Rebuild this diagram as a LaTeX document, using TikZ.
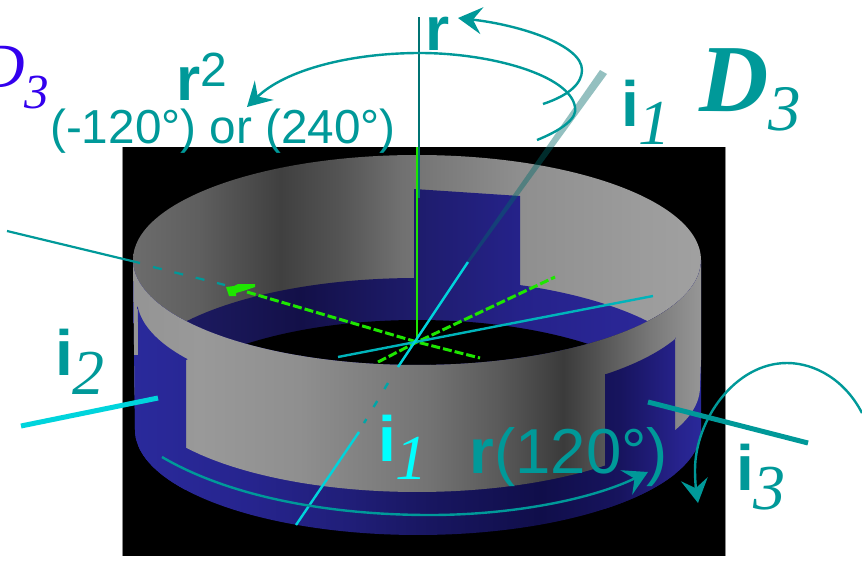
\documentclass[tikz,border=0pt]{standalone}
\usepackage{fontspec}
\setmainfont{Liberation Serif}
\setsansfont{Liberation Sans}
\usetikzlibrary{arrows.meta}
\definecolor{tealx}{HTML}{009999}
\definecolor{cyanx}{HTML}{00D4DC}
\definecolor{aquax}{HTML}{00FFFF}
\definecolor{greenx}{HTML}{1EE600}
\definecolor{bluex}{HTML}{3300EE}
\definecolor{ba}{HTML}{2A2A9C}\definecolor{bb}{HTML}{26248E}\definecolor{bc}{HTML}{201E78}
\definecolor{bd}{HTML}{181660}\definecolor{be}{HTML}{100E4A}\definecolor{bf}{HTML}{17145E}
\definecolor{bg}{HTML}{27238E}
\definecolor{ia}{HTML}{1C1A60}\definecolor{ib}{HTML}{131048}\definecolor{ic}{HTML}{1F1D70}
\definecolor{id}{HTML}{25228A}\definecolor{ie}{HTML}{2B2798}
\tikzset{
  rotarrow/.style={tealx,line width=2.4pt,-{Stealth[length=24pt,width=27pt,inset=9pt]}},
  axisthin/.style={line width=2.4pt},
  greendash/.style={greenx,line width=3pt,dash pattern=on 9pt off 3pt},
  lab/.style={inner sep=0pt,anchor=base west,text=tealx},
}
% piecewise horizontal gradients, between two y values
\newcommand\outergray[2]{\foreach \xa/\ca/\xb/\cb in {125/black!42/200/black!40,200/black!40/300/black!44,300/black!44/430/black!55,430/black!55/500/black!65,500/black!65/563/black!77,563/black!77/600/black!67,600/black!67/650/black!53,650/black!53/705/black!40}
  \shade[left color=\ca,right color=\cb] (\xa,#1) rectangle (\xb+.6,#2);}
\newcommand\innergray[2]{\foreach \xa/\ca/\xb/\cb in {125/black!57/200/black!63,200/black!63/280/black!75,280/black!75/340/black!67,340/black!67/400/black!56,400/black!56/430/black!53,430/black!53/520/black!44,520/black!44/640/black!39,640/black!39/705/black!37}
  \shade[left color=\ca,right color=\cb] (\xa,#1) rectangle (\xb+.6,#2);}
\newcommand\outerblue[2]{\foreach \xa/\ca/\xb/\cb in {125/ba/250/bb,250/bb/350/bc,350/bc/430/bd,430/bd/540/be,540/be/620/bf,620/bf/680/bg,680/bg/705/ba}
  \shade[left color=\ca,right color=\cb] (\xa,#1) rectangle (\xb+.6,#2);}
\newcommand\innerblue[2]{\foreach \xa/\ca/\xb/\cb in {125/ia/192/ia,192/ia/300/ib,300/ib/430/ic,430/ic/520/id,520/id/640/ie,640/ie/705/ie}
  \shade[left color=\ca,right color=\cb] (\xa,#1) rectangle (\xb+.6,#2);}
\newcommand\fsz[1]{\fontsize{#1}{#1}\selectfont}
\begin{document}
\begin{tikzpicture}[x=1pt,y=-1pt]
\useasboundingbox (0,0) rectangle (862,560);
\fill[white] (0,0) rectangle (862,560);
% black backdrop
\fill[black] (122,147) rectangle (725,556);
\draw[black!45,line width=.8pt] (122,147) -- (122,556) (725,147) -- (725,556);
% inside of the ring
\begin{scope}
  \clip (417,260) ellipse [x radius=284pt,y radius=105pt];
  \innergray{150}{370}
  \begin{scope}
    \clip (414,189) -- (520,196) -- (520,300) -- (414,300) -- cycle;
    \innerblue{150}{370}
  \end{scope}
  \begin{scope}
    \clip (417,383) ellipse [x radius=285pt,y radius=105pt];
    \innerblue{150}{370}
  \end{scope}
  \fill[black] (417,425) ellipse [x radius=269pt,y radius=105pt];
\end{scope}
% outside of the ring
\begin{scope}
  \clip plot[domain=180:0,samples=90] ({417+284*cos(\x)},{260+105*sin(\x)})
     -- (701,430) -- plot[domain=0:180,samples=90] ({418+283*cos(\x)},{430+105*sin(\x)}) -- cycle;
  \outerblue{250}{540}
  \begin{scope}
    \clip (130,250) -- (134,387) -- plot[domain=180:0,samples=90] ({417+283*cos(\x)},{387+105*sin(\x)}) -- (705,250) -- cycle;
    \outergray{250}{540}
  \end{scope}
  \begin{scope}
    \clip (138,322) -- plot[domain=176:145,samples=30] ({417+280*cos(\x)},{299+105*sin(\x)}) -- (186,360) -- (186,560) -- (138,560) -- cycle;
    \outerblue{250}{540}
  \end{scope}
  \begin{scope}
    \clip (130,355) -- (138,355) -- (138,440) -- (130,440) -- cycle;
    \outerblue{250}{540}
  \end{scope}
  \begin{scope}
    \clip (605,374) -- plot[domain=48:24,samples=20] ({417+283*cos(\x)},{296+105*sin(\x)}) -- (675,337) -- (675,560) -- (605,560) -- cycle;
    \outerblue{250}{540}
  \end{scope}
\end{scope}
% green axes
\draw[greenx,line width=1.8pt] (417,147) -- (417,341);
\draw[greendash] (247,292) -- (417,342) -- (480,358);
\draw[greendash] (378,362) -- (417,342) -- (555,277);
\fill[greenx] (226,287) -- (234,286) -- (238,284) -- (255,284) -- (255,287) -- (243,291) -- (236,293) -- (236,296) -- (229,296) -- cycle;
% axis i3 (far part)
\coordinate (ithreeA) at (7,231);
\coordinate (ithreeB) at (140,263);
\draw[tealx,line width=2.2pt] (ithreeA) -- (ithreeB);
\draw[tealx,line width=2.2pt,dash pattern=on 9pt off 13pt] (153,267) -- (225,285);
% axis i2 (far part)
\coordinate (itwoA) at (338,357);
\coordinate (itwoB) at (653,296);
\draw[cyanx!85!black,axisthin] (itwoA) -- (itwoB);
% axis i1
\fill[tealx!70!black,opacity=.42] (607,74) -- (600,70) -- (467,261) -- (469,263) -- cycle;
\coordinate (ioneA) at (468,262);
\coordinate (ioneB) at (398,367);
\coordinate (ioneC) at (359,432);
\coordinate (ioneD) at (296,525);
\draw[cyanx,axisthin] (ioneA) -- (ioneB);
\draw[tealx!80!cyanx,axisthin,dash pattern=on 7pt off 14pt] (388,383) -- (364,423);
\draw[cyanx,axisthin] (ioneC) -- (ioneD);
% near ends of the axes
\coordinate (itwoC) at (21,426);
\coordinate (itwoD) at (158,398);
\draw[cyanx,line width=5pt] (itwoC) -- (itwoD);
\coordinate (ithreeC) at (648,402);
\coordinate (ithreeD) at (808,443);
\draw[tealx,line width=5pt] (ithreeC) -- (ithreeD);
% axis r
\coordinate (rtop) at (419,17);
\coordinate (rbot) at (419,198);
\draw[tealx!75!black,line width=2pt] (rtop) -- (rbot);
% rotation arrows
\draw[rotarrow] (537,140) .. controls (562,130) and (578,118) .. (575,107)
   .. controls (570,75) and (490,53) .. (420,53)
   .. controls (350,53) and (285,70) .. (247,107);
\draw[rotarrow] (543,104) .. controls (570,95) and (582,83) .. (582,70)
   .. controls (582,45) and (520,25) .. (458,18);
\draw[rotarrow] (162,457) .. controls (230,497) and (330,515) .. (430,515)
   .. controls (510,515) and (590,500) .. (648,472);
\draw[rotarrow] (862,413) .. controls (845,380) and (815,363) .. (787,363)
   .. controls (735,363) and (695,420) .. (695,470)
   .. controls (695,480) and (696,490) .. (698,503);
% labels
\node[lab,text=bluex] (dthreeblue) at (-21,87) {\fsz{63}\itshape D\raisebox{-21pt}{\fsz{49}3}};
\node[lab] (rtoplabel) at (425,50) {\fsz{62}\sffamily\bfseries r};
\node[lab] (rsquare) at (176,100) {\fsz{62}\sffamily\bfseries r\raisebox{14pt}{\fsz{48}\mdseries 2}};
\node[lab] (rsqangle) at (50,143) {\fsz{47.7}\sffamily (-120°) or (240°)};
\node[lab] (ionelabel) at (621,126) {\fsz{64}\sffamily\bfseries i\raisebox{-18pt}{\rmfamily\mdseries\itshape 1}};
\node[lab] (dthree) at (699,111) {\fsz{96}\bfseries\itshape D\raisebox{-19pt}{\fsz{65}\mdseries 3}};
\node[lab] (itwolabel) at (55,375) {\fsz{64}\sffamily\bfseries i\raisebox{-19pt}{\rmfamily\mdseries\itshape 2}};
\node[lab,text=aquax] (ionelow) at (378,461) {\fsz{64}\sffamily\bfseries i\raisebox{-18pt}{\rmfamily\mdseries\itshape 1}};
\node[lab] (rangle) at (469.5,473) {\fsz{63.5}\sffamily{\bfseries r}(120°)};
\node[lab] (ithreelabel) at (736,490) {\fsz{64}\sffamily\bfseries i\raisebox{-19pt}{\rmfamily\mdseries\itshape 3}};
\end{tikzpicture}
\end{document}
